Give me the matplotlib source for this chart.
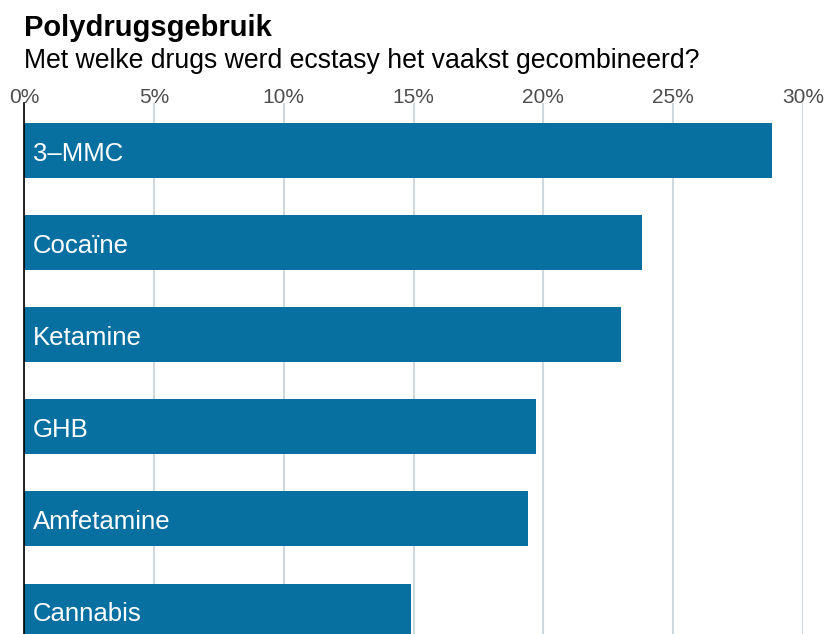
import matplotlib
matplotlib.use("Agg")
import matplotlib.pyplot as plt
from matplotlib.ticker import FuncFormatter

plt.rcParams['font.family'] = ['Liberation Sans', 'DejaVu Sans']

categories = ["3\u2013MMC", "Cocaïne", "Ketamine", "GHB", "Amfetamine", "Cannabis"]
values = [28.8, 23.8, 23.0, 19.7, 19.4, 14.9]
ticks = [0, 5, 10, 15, 20, 25, 30]

W, H = 827, 634
fig = plt.figure(figsize=(W / 100, H / 100), dpi=100)

x0, x1 = 24, 803
top = 103
ax = fig.add_axes([x0 / W, 0, (x1 - x0) / W, (H - top) / H])

bar_color = "#086fa1"
grid_color = "#cfd8de"

pos = list(range(len(categories)))
ax.barh(pos, values, height=55 / 92, color=bar_color, zorder=2)
for p, c in zip(pos, categories):
    ax.text(0.33, p + 0.03, c, color="white", fontsize=18.5, va="center", ha="left", zorder=3)

ax.set_xlim(0, 30)
ax.set_ylim(5.25, -48 / 92)
ax.set_xticks(ticks)
ax.xaxis.set_major_formatter(FuncFormatter(lambda v, _: f"{v:.0f}%"))
ax.xaxis.tick_top()
ax.tick_params(axis="x", length=0, pad=-3, labelsize=15, labelcolor="#4d4d4d")
ax.set_yticks([])
ax.grid(axis="x", color=grid_color, linewidth=1.5, zorder=0)
for s in ["top", "right", "bottom"]:
    ax.spines[s].set_visible(False)
ax.spines["left"].set_color("black")
ax.spines["left"].set_linewidth(1.2)
ax.spines["left"].set_zorder(4)

fig.text(24 / W, 1 - 36 / H, "Polydrugsgebruik", fontsize=21, fontweight="bold",
         va="baseline", ha="left")
fig.text(24 / W, 1 - 68 / H, "Met welke drugs werd ecstasy het vaakst gecombineerd?",
         fontsize=19.2, va="baseline", ha="left")

fig.savefig("out.png", dpi=100)
